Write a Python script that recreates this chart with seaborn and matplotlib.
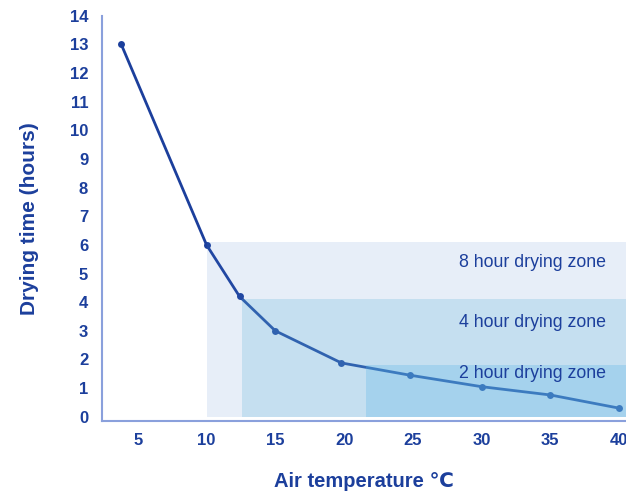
import matplotlib

matplotlib.use("Agg")
import matplotlib.pyplot as plt
import pandas as pd
import seaborn as sns

# drying curve
air_temp = [3.8, 10, 12.4, 15, 19.8, 24.8, 30, 35, 40]
drying_hours = [13, 6, 4.2, 3.0, 1.88, 1.45, 1.05, 0.76, 0.3]

# drying zones: start temperature and upper bound (hours)
zone_labels = ["8 hour drying zone", "4 hour drying zone", "2 hour drying zone"]
zone_start = [10, 12.55, 21.6]
zone_top = [6.1, 4.1, 1.8]
zone_text_y = [5.4, 3.3, 1.5]

x_ticks = [5, 10, 15, 20, 25, 30, 35, 40]
y_ticks = list(range(0, 15))

NAVY = "#1c3f9c"
SPINE = "#8aa0dc"
ZONE_COLORS = [("#4a7fd0", 0.13), ("#60b6d9", 0.25), ("#5bb5e7", 0.30)]

sns.set_theme(style="white")
plt.rcParams["font.family"] = ["Liberation Sans", "DejaVu Sans"]

fig = plt.figure(figsize=(6.26, 4.95), dpi=100)
ax = fig.add_axes([0.163, 0.150, 0.837, 0.818])

df = pd.DataFrame({"temp": air_temp, "hours": drying_hours})
sns.lineplot(data=df, x="temp", y="hours", ax=ax, color=NAVY, linewidth=2,
             marker="o", markersize=5, markeredgewidth=0, zorder=2)

xmax = 40.5
for (col, a), x0, top in zip(ZONE_COLORS, zone_start, zone_top):
    ax.fill_between([x0, xmax], 0, top, color=col, alpha=a, linewidth=0, zorder=3)

for lab, ty in zip(zone_labels, zone_text_y):
    ax.text(39.05, ty, lab, ha="right", va="center", fontsize=12.8,
            color=NAVY, zorder=4)

ax.set_xlim(2.4, xmax)
ax.set_ylim(-0.14, 14.0)
ax.set_xticks(x_ticks)
ax.set_yticks(y_ticks)
ax.tick_params(axis="both", length=0, labelsize=12, labelcolor=NAVY)
ax.tick_params(axis="y", pad=10)
ax.tick_params(axis="x", pad=9)
for t in ax.get_xticklabels() + ax.get_yticklabels():
    t.set_fontweight("bold")

ax.set_xlabel("Air temperature ℃", fontsize=14.5, fontweight="bold",
              color=NAVY, labelpad=17)
ax.set_ylabel("Drying time (hours)", fontsize=15, fontweight="bold",
              color=NAVY, labelpad=22)

for side in ["top", "right"]:
    ax.spines[side].set_visible(False)
for side in ["left", "bottom"]:
    ax.spines[side].set_color(SPINE)
    ax.spines[side].set_linewidth(1.5)

fig.savefig("out.png", dpi=100)
